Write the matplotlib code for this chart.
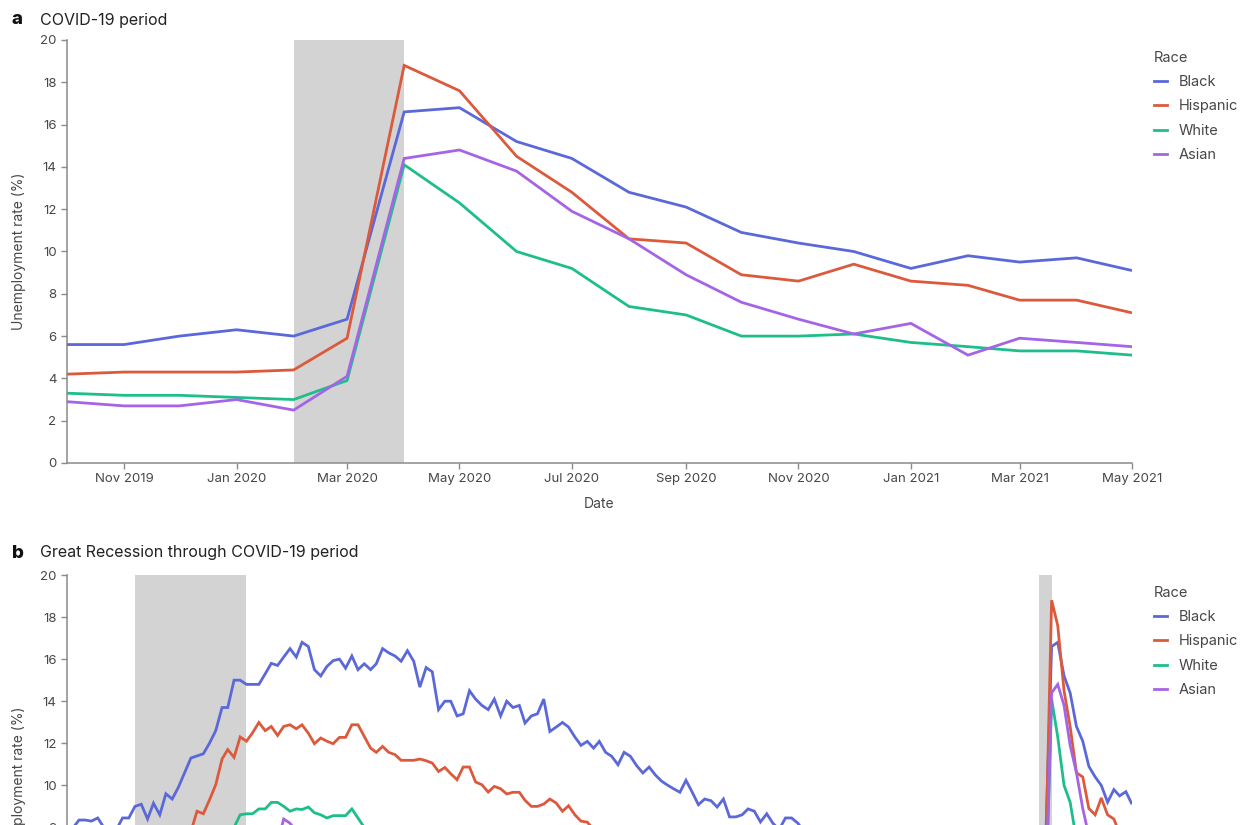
import matplotlib
matplotlib.use("Agg")
import matplotlib.pyplot as plt
import matplotlib.dates as mdates
from matplotlib.lines import Line2D
import pandas as pd

plt.rcParams['font.family'] = ['Inter', 'DejaVu Sans']

# ---------------- data ----------------
races = ["Black", "Hispanic", "White", "Asian"]
colors = {"Black": "#5A68DA", "Hispanic": "#DC5A3C", "White": "#1EBE8C", "Asian": "#A564E6"}

# Panel a: monthly, Oct 2019 - May 2021
covid_start = "2019-10-01"
covid_black = [5.6, 5.6, 6.0, 6.3, 6.0, 6.8, 16.6, 16.8, 15.2, 14.4, 12.8, 12.1, 10.9, 10.4, 10.0, 9.2, 9.8, 9.5, 9.7, 9.1]
covid_hispanic = [4.2, 4.3, 4.3, 4.3, 4.4, 5.9, 18.8, 17.6, 14.5, 12.8, 10.6, 10.4, 8.9, 8.6, 9.4, 8.6, 8.4, 7.7, 7.7, 7.1]
covid_white = [3.3, 3.2, 3.2, 3.1, 3.0, 3.9, 14.1, 12.3, 10.0, 9.2, 7.4, 7.0, 6.0, 6.0, 6.1, 5.7, 5.5, 5.3, 5.3, 5.1]
covid_asian = [2.9, 2.7, 2.7, 3.0, 2.5, 4.1, 14.4, 14.8, 13.8, 11.9, 10.6, 8.9, 7.6, 6.8, 6.1, 6.6, 5.1, 5.9, 5.7, 5.5]
covid_ticks = ["2019-11", "2020-01", "2020-03", "2020-05", "2020-07", "2020-09",
               "2020-11", "2021-01", "2021-03", "2021-05"]
covid_shade = [("2020-02-01", "2020-04-01")]

# Panel b: monthly, Jan 2007 - May 2021
long_start = "2007-01-01"
long_black = [
    7.9, 8.0, 8.35, 8.35, 8.3, 8.45, 8.0, 7.6, 7.9, 8.45, 8.45, 9.0,
    9.1, 8.4, 9.15, 8.6, 9.6, 9.35, 9.9, 10.6, 11.3, 11.4, 11.5, 12.0,
    12.6, 13.7, 13.7, 15.0, 15.0, 14.8, 14.8, 14.8, 15.3, 15.8, 15.7, 16.1,
    16.5, 16.1, 16.8, 16.6, 15.5, 15.2, 15.65, 15.93, 16.0, 15.57, 16.15, 15.5,
    15.78, 15.5, 15.78, 16.5, 16.3, 16.15, 15.9, 16.4, 15.9, 14.67, 15.6, 15.4,
    13.6, 14.0, 14.0, 13.3, 13.4, 14.5, 14.1, 13.8, 13.6, 14.1, 13.3, 14.0,
    13.7, 13.8, 12.96, 13.3, 13.4, 14.1, 12.56, 12.77, 12.99, 12.77, 12.3, 11.9,
    12.09, 11.77, 12.09, 11.57, 11.38, 10.98, 11.57, 11.38, 10.93, 10.59, 10.87, 10.5,
    10.2, 10.0, 9.84, 9.67, 10.24, 9.67, 9.08, 9.35, 9.27, 8.97, 9.35, 8.5,
    8.5, 8.6, 8.88, 8.77, 8.26, 8.65, 8.2, 7.9, 8.45, 8.45, 8.2, 7.8,
    7.7, 7.9, 7.9, 7.9, 7.6, 7.1, 7.4, 7.7, 7.0, 7.5, 7.3, 6.8,
    7.7, 6.9, 6.9, 6.6, 5.9, 6.5, 6.6, 6.3, 6.0, 6.2, 5.9, 6.6,
    6.8, 7.0, 6.7, 6.7, 6.2, 6.0, 6.0, 5.5, 5.5, 5.6, 5.6, 6.0,
    6.3, 6.0, 6.8, 16.6, 16.8, 15.2, 14.4, 12.8, 12.1, 10.9, 10.4, 10.0,
    9.2, 9.8, 9.5, 9.7, 9.1]
long_hispanic = [
    5.8, 5.5, 5.3, 5.5, 5.5, 5.6, 5.8, 5.6, 5.9, 5.8, 5.8, 6.2,
    6.3, 6.2, 6.9, 6.9, 6.9, 7.4, 7.8, 7.9, 7.8, 8.77, 8.65, 9.3,
    10.03, 11.25, 11.7, 11.33, 12.3, 12.1, 12.5, 12.99, 12.6, 12.8, 12.37, 12.8,
    12.88, 12.69, 12.88, 12.48, 11.98, 12.25, 12.1, 11.98, 12.28, 12.28, 12.88, 12.88,
    12.33, 11.77, 11.57, 11.85, 11.57, 11.46, 11.19, 11.19, 11.19, 11.25, 11.17, 11.06,
    10.66, 10.85, 10.55, 10.27, 10.87, 10.87, 10.16, 10.03, 9.68, 9.95, 9.84, 9.59,
    9.67, 9.67, 9.29, 9.0, 9.0, 9.11, 9.35, 9.16, 8.77, 9.03, 8.6, 8.3,
    8.25, 7.9, 7.9, 7.3, 7.6, 7.8, 7.8, 7.5, 6.9, 6.8, 6.6, 6.5,
    6.7, 6.6, 6.8, 6.9, 6.7, 6.6, 6.8, 6.6, 6.4, 6.3, 6.4, 6.3,
    5.9, 5.4, 5.6, 6.1, 5.6, 5.8, 5.5, 5.4, 6.1, 5.7, 5.7, 6.3,
    5.9, 5.6, 5.2, 5.2, 5.2, 4.7, 5.1, 5.2, 5.1, 4.7, 4.6, 4.9,
    4.9, 5.0, 5.0, 4.9, 4.9, 4.6, 4.5, 4.7, 4.5, 4.4, 4.5, 4.4,
    4.3, 4.4, 4.7, 4.2, 4.2, 4.3, 4.5, 4.2, 3.9, 4.2, 4.3, 4.3,
    4.3, 4.4, 5.9, 18.8, 17.6, 14.5, 12.8, 10.6, 10.4, 8.9, 8.6, 9.4,
    8.6, 8.4, 7.7, 7.7, 7.1]
long_white = [
    4.2, 4.0, 3.9, 3.9, 3.9, 4.0, 4.2, 4.2, 4.2, 4.2, 4.2, 4.4,
    4.4, 4.4, 4.5, 4.4, 4.9, 4.9, 5.2, 5.5, 5.5, 5.9, 6.3, 6.6,
    6.9, 7.3, 7.7, 8.0, 8.6, 8.65, 8.65, 8.88, 8.88, 9.19, 9.19, 9.0,
    8.77, 8.88, 8.85, 8.97, 8.7, 8.6, 8.45, 8.56, 8.56, 8.56, 8.88, 8.45,
    8.0, 7.9, 7.9, 8.0, 7.9, 8.0, 8.0, 8.0, 7.9, 7.9, 7.6, 7.5,
    7.4, 7.3, 7.3, 7.4, 7.4, 7.4, 7.4, 7.2, 7.0, 6.9, 6.8, 6.9,
    7.0, 6.8, 6.7, 6.7, 6.7, 6.6, 6.6, 6.4, 6.3, 6.3, 6.1, 6.0,
    5.8, 5.8, 5.8, 5.4, 5.4, 5.3, 5.3, 5.3, 5.1, 4.8, 4.9, 4.8,
    4.7, 4.7, 4.7, 4.7, 4.7, 4.6, 4.6, 4.4, 4.4, 4.3, 4.4, 4.4,
    4.3, 4.3, 4.4, 4.4, 4.3, 4.4, 4.4, 4.4, 4.4, 4.3, 4.1, 4.2,
    4.3, 4.1, 3.9, 3.8, 3.7, 3.8, 3.8, 3.9, 3.8, 3.6, 3.7, 3.7,
    3.5, 3.6, 3.6, 3.5, 3.4, 3.5, 3.4, 3.4, 3.4, 3.3, 3.4, 3.4,
    3.5, 3.4, 3.4, 3.1, 3.3, 3.3, 3.4, 3.4, 3.2, 3.3, 3.2, 3.2,
    3.1, 3.0, 3.9, 14.1, 12.3, 10.0, 9.2, 7.4, 7.0, 6.0, 6.0, 6.1,
    5.7, 5.5, 5.3, 5.3, 5.1]
long_asian = [
    3.2, 2.9, 3.1, 3.3, 3.0, 3.2, 3.5, 3.3, 3.4, 3.1, 3.3, 3.4,
    3.0, 3.4, 3.6, 3.2, 3.9, 4.0, 4.1, 4.4, 3.9, 4.3, 5.3, 5.1,
    6.2, 6.6, 6.6, 6.8, 7.1, 7.9, 8.0, 7.5, 7.5, 7.4, 7.3, 8.4,
    8.2, 7.8, 7.4, 6.8, 7.2, 7.6, 7.6, 7.4, 7.2, 7.5, 7.2, 7.7,
    7.0, 6.9, 7.0, 6.9, 7.0, 7.6, 7.7, 7.6, 7.8, 7.5, 6.9, 6.6,
    6.7, 6.3, 6.0, 5.9, 5.2, 6.3, 6.3, 6.3, 5.0, 6.0, 6.5, 6.8,
    6.4, 6.0, 5.2, 5.0, 5.1, 5.3, 5.4, 5.3, 4.7, 5.2, 5.3, 4.3,
    5.3, 5.2, 5.6, 5.7, 5.1, 5.1, 4.4, 4.7, 4.8, 5.1, 4.8, 4.3,
    4.0, 3.9, 3.8, 4.4, 4.1, 3.8, 3.8, 3.6, 3.5, 3.8, 3.9, 3.5,
    4.0, 4.3, 4.1, 3.3, 3.7, 3.4, 3.3, 3.7, 3.9, 3.5, 3.0, 3.3,
    3.7, 3.8, 3.6, 3.5, 3.5, 3.6, 3.9, 4.0, 3.6, 3.4, 3.0, 2.9,
    3.1, 3.1, 2.9, 3.1, 2.9, 3.2, 3.1, 2.8, 3.0, 3.2, 3.2, 3.3,
    3.1, 3.1, 3.1, 2.2, 2.5, 2.1, 2.8, 2.8, 2.5, 2.9, 2.7, 2.7,
    3.0, 2.5, 4.1, 14.4, 14.8, 13.8, 11.9, 10.6, 8.9, 7.6, 6.8, 6.1,
    6.6, 5.1, 5.9, 5.7, 5.5]
long_ticks = [str(y) for y in range(2008, 2022, 2)]
long_shade = [("2007-12-01", "2009-06-01"), ("2020-02-01", "2020-04-01")]

y_ticks = [0, 2, 4, 6, 8, 10, 12, 14, 16, 18, 20]

# ---------------- figure ----------------
W, H = 1250, 825
fig = plt.figure(figsize=(W / 100, H / 100), dpi=100)
TXT = "#474747"
SPINE = "#8a8a8a"


def style_axes(ax):
    for s in ["top", "right"]:
        ax.spines[s].set_visible(False)
    for s in ["left", "bottom"]:
        ax.spines[s].set_color(SPINE)
        ax.spines[s].set_linewidth(1.1)
    ax.tick_params(axis="both", colors=SPINE, labelcolor=TXT, labelsize=9.5,
                   length=4, width=1.0, direction="out")
    ax.set_ylim(0, 20)
    ax.set_yticks(y_ticks)
    ax.set_ylabel("Unemployment rate (%)", fontsize=10, color=TXT, labelpad=10)


def draw_panel(ax, start, series, shades):
    dates = pd.date_range(start=start, periods=len(series["Black"]), freq="MS")
    for a, b in shades:
        ax.axvspan(pd.Timestamp(a), pd.Timestamp(b), color="#d3d3d3", lw=0, zorder=0)
    for r in races:
        ax.plot(dates, series[r], color=colors[r], lw=2.0, zorder=3,
                solid_joinstyle="miter", solid_capstyle="butt")
    ax.set_xlim(dates[0], dates[-1])
    return dates


def add_legend(ax, x_px, y_px):
    handles = [Line2D([], [], color=colors[r], lw=2.0) for r in races]
    leg = ax.legend(handles, races, title="Race", loc="upper left",
                    bbox_to_anchor=(x_px / W, 1 - y_px / H),
                    bbox_transform=fig.transFigure, frameon=False,
                    fontsize=10.5, title_fontsize=10.5, handlelength=0.9,
                    handletextpad=0.8, labelspacing=0.7, borderpad=0,
                    borderaxespad=0, alignment="left")
    for t in leg.get_texts():
        t.set_color(TXT)
    leg.get_title().set_color(TXT)


# Panel a
ax1 = fig.add_axes([67 / W, 1 - 463 / H, 1065 / W, 423 / H])
style_axes(ax1)
draw_panel(ax1, covid_start,
           {"Black": covid_black, "Hispanic": covid_hispanic,
            "White": covid_white, "Asian": covid_asian}, covid_shade)
ax1.set_xticks([pd.Timestamp(t + "-01") for t in covid_ticks])
ax1.xaxis.set_major_formatter(mdates.DateFormatter("%b %Y"))
ax1.set_xlabel("Date", fontsize=10, color=TXT, labelpad=8)
add_legend(ax1, 1154, 51)

# Panel b (extends below the visible canvas, as in the reference crop)
ax2 = fig.add_axes([67 / W, 1 - 995.7 / H, 1065 / W, 420.7 / H])
style_axes(ax2)
draw_panel(ax2, long_start,
           {"Black": long_black, "Hispanic": long_hispanic,
            "White": long_white, "Asian": long_asian}, long_shade)
ax2.set_xticks([pd.Timestamp(t + "-01-01") for t in long_ticks])
ax2.tick_params(axis="x", labelbottom=False)
add_legend(ax2, 1154, 586)

# Panel labels and titles
fig.text(12 / W, 1 - 20 / H, "a", fontsize=13.5, fontweight="heavy", color="#111111", va="center")
fig.text(40 / W, 1 - 20 / H, "COVID-19 period", fontsize=11.5, color="#222222", va="center")
fig.text(12 / W, 1 - 553 / H, "b", fontsize=13.5, fontweight="heavy", color="#111111", va="center")
fig.text(40 / W, 1 - 553 / H, "Great Recession through COVID-19 period", fontsize=11.5,
         color="#222222", va="center")

fig.savefig("out.png", dpi=100, facecolor="white")
